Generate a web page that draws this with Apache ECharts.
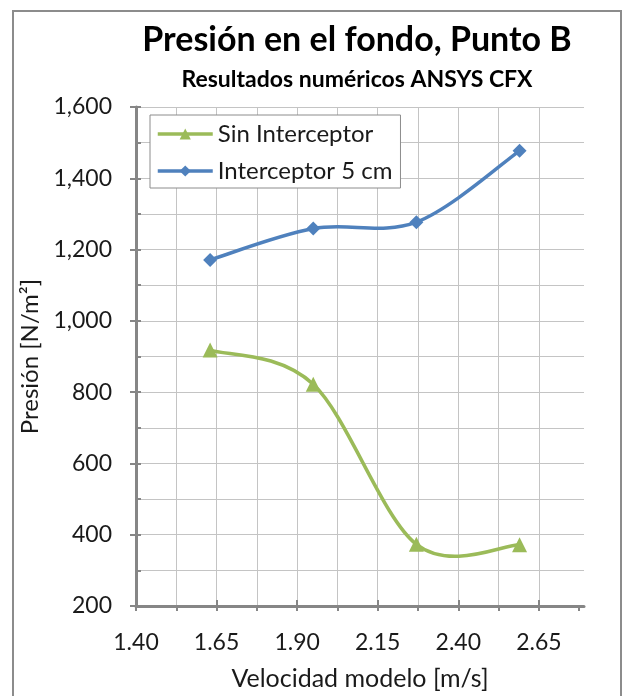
<!DOCTYPE html>
<html>
<head>
<meta charset="utf-8">
<script src="https://cdn.jsdelivr.net/npm/echarts@6/dist/echarts.min.js"></script>
<style>
  html, body { margin: 0; padding: 0; background: #ffffff; }
  #chart { width: 626px; height: 696px; }
</style>
</head>
<body>
<div id="chart"></div>
<script>
// Pressure at the bottom (point B) vs. model speed
const seriesNames = ['Sin Interceptor', 'Interceptor 5 cm'];
const speedSin = [1.63, 1.95, 2.27, 2.59];
const presionSin = [918, 822, 373, 372];
const speedInt = [1.63, 1.95, 2.27, 2.59];
const presionInt = [1171, 1259, 1277, 1477];

// Axis ticks and labels
const xLabelValues = [1.40, 1.65, 1.90, 2.15, 2.40, 2.65];
const xTickValues = [1.40, 1.525, 1.65, 1.775, 1.90, 2.025, 2.15, 2.275, 2.40, 2.525, 2.65, 2.775];
const yLabelValues = [200, 400, 600, 800, 1000, 1200, 1400, 1600];
const yTickValues = [200, 300, 400, 500, 600, 700, 800, 900, 1000, 1100, 1200, 1300, 1400, 1500, 1600];

const FONT = 'Lato';
const AXIS_COLOR = '#868686';
const GRID_COLOR = '#c4c4c4';
const GREEN = '#9BBB59';
const BLUE = '#4F81BD';
const LINE_W = 3.5;

const chart = echarts.init(document.getElementById('chart'), null, { renderer: 'canvas' });

const pairs = (xs, ys) => xs.map((x, i) => [x, ys[i]]);
const fmtY = v => v.toLocaleString('en-US');

// Smoothed connecting curve (cardinal spline, tension 1/6 of neighbour span)
// computed in pixel space from the data coordinates.
function smoothCurve(xs, ys, color) {
  return {
    type: 'custom',
    coordinateSystem: 'cartesian2d',
    xAxisIndex: 0, yAxisIndex: 0,
    data: pairs(xs, ys),
    encode: { x: 0, y: 1 },
    silent: true,
    z: 2,
    renderItem: (params, api) => {
      if (params.dataIndex !== 0) return null;
      const p = xs.map((x, i) => api.coord([x, ys[i]]));
      const n = p.length;
      let d = 'M' + p[0][0] + ' ' + p[0][1];
      for (let i = 0; i < n - 1; i++) {
        const p0 = p[Math.max(i - 1, 0)];
        const p1 = p[i];
        const p2 = p[i + 1];
        const p3 = p[Math.min(i + 2, n - 1)];
        const c1x = p1[0] + (p2[0] - p0[0]) / 6;
        const c1y = p1[1] + (p2[1] - p0[1]) / 6;
        const c2x = p2[0] - (p3[0] - p1[0]) / 6;
        const c2y = p2[1] - (p3[1] - p1[1]) / 6;
        d += ' C' + c1x + ' ' + c1y + ' ' + c2x + ' ' + c2y + ' ' + p2[0] + ' ' + p2[1];
      }
      return {
        type: 'path',
        shape: { pathData: d },
        style: { stroke: color, lineWidth: LINE_W, fill: null, lineJoin: 'round', lineCap: 'round' }
      };
    }
  };
}

const option = {
  backgroundColor: '#ffffff',
  animation: false,
  textStyle: { fontFamily: FONT },
  title: [
    {
      text: 'Presión en el fondo, Punto B',
      left: 352, top: 18, textAlign: 'center',
      textStyle: { fontFamily: FONT, fontSize: 34, fontWeight: 'bold', color: '#000' }
    },
    {
      text: 'Resultados numéricos ANSYS CFX',
      left: 352, top: 63, textAlign: 'center',
      textStyle: { fontFamily: FONT, fontSize: 23, fontWeight: 'bold', color: '#000' }
    }
  ],
  graphic: [
    {
      type: 'rect', silent: true, z: -1,
      shape: { x: 13, y: 11, width: 608, height: 720 },
      style: { fill: 'none', stroke: '#8c8c8c', lineWidth: 2 }
    }
  ],
  legend: {
    orient: 'vertical',
    left: 150, top: 115,
    data: [
      { name: seriesNames[0], lineStyle: { color: GREEN, width: LINE_W, opacity: 1 } },
      { name: seriesNames[1], lineStyle: { color: BLUE, width: LINE_W, opacity: 1 } }
    ],
    itemWidth: 55, itemHeight: 14,
    itemGap: 13,
    padding: [7, 8, 5, 6],
    borderColor: '#8c8c8c', borderWidth: 1,
    backgroundColor: '#ffffff',
    textStyle: { fontFamily: FONT, fontSize: 24, color: '#1a1a1a' }
  },
  grid: { left: 136, top: 107, right: 42, bottom: 86, containLabel: false },
  xAxis: [
    {
      type: 'value', position: 'bottom',
      min: 1.40, max: 2.79, interval: 0.125,
      name: 'Velocidad modelo [m/s]', nameLocation: 'middle', nameGap: 60,
      nameTextStyle: { fontFamily: FONT, fontSize: 25, color: '#1a1a1a' },
      axisLine: { show: true, lineStyle: { color: AXIS_COLOR, width: 3 } },
      axisTick: { show: true, inside: false, length: 5, customValues: xTickValues,
                  lineStyle: { color: AXIS_COLOR, width: 2 } },
      axisLabel: { show: true, margin: 25, customValues: xLabelValues,
                   formatter: v => v.toFixed(2),
                   fontFamily: FONT, fontSize: 23, color: '#1a1a1a' },
      splitLine: { show: true, showMaxLine: false, showMinLine: false,
                   lineStyle: { color: GRID_COLOR, width: 1 } }
    },
    {
      type: 'value', position: 'bottom',
      min: 1.40, max: 2.79, interval: 0.25,
      axisLine: { show: false },
      axisTick: { show: true, inside: true, length: 6, customValues: xLabelValues,
                  lineStyle: { color: AXIS_COLOR, width: 2 } },
      axisLabel: { show: false },
      splitLine: { show: false }
    }
  ],
  yAxis: [
    {
      type: 'value', position: 'left',
      min: 200, max: 1600, interval: 100,
      name: 'Presión [N/m²]', nameLocation: 'middle', nameGap: 90, nameRotate: 90,
      nameTextStyle: { fontFamily: FONT, fontSize: 24, color: '#1a1a1a' },
      axisLine: { show: true, lineStyle: { color: AXIS_COLOR, width: 3 } },
      axisTick: { show: true, inside: true, length: 5, customValues: yTickValues,
                  lineStyle: { color: AXIS_COLOR, width: 2 } },
      axisLabel: { show: true, margin: 24, customValues: yLabelValues,
                   formatter: fmtY,
                   fontFamily: FONT, fontSize: 23, color: '#1a1a1a' },
      splitLine: { show: true, showMaxLine: true, showMinLine: false,
                   lineStyle: { color: GRID_COLOR, width: 1 } }
    },
    {
      type: 'value', position: 'left',
      min: 200, max: 1600, interval: 200,
      axisLine: { show: false },
      axisTick: { show: true, inside: false, length: 6, customValues: yLabelValues,
                  lineStyle: { color: AXIS_COLOR, width: 2 } },
      axisLabel: { show: false },
      splitLine: { show: false }
    }
  ],
  series: [
    {
      name: seriesNames[0], type: 'line',
      xAxisIndex: 0, yAxisIndex: 0,
      data: pairs(speedSin, presionSin),
      symbol: 'triangle', symbolSize: 15,
      lineStyle: { color: GREEN, width: LINE_W, opacity: 0 },
      itemStyle: { color: GREEN },
      z: 3
    },
    {
      name: seriesNames[1], type: 'line',
      xAxisIndex: 0, yAxisIndex: 0,
      data: pairs(speedInt, presionInt),
      symbol: 'diamond', symbolSize: 14,
      lineStyle: { color: BLUE, width: LINE_W, opacity: 0 },
      itemStyle: { color: BLUE },
      z: 3
    },
    smoothCurve(speedSin, presionSin, GREEN),
    smoothCurve(speedInt, presionInt, BLUE)
  ]
};

chart.setOption(option);
</script>
</body>
</html>
